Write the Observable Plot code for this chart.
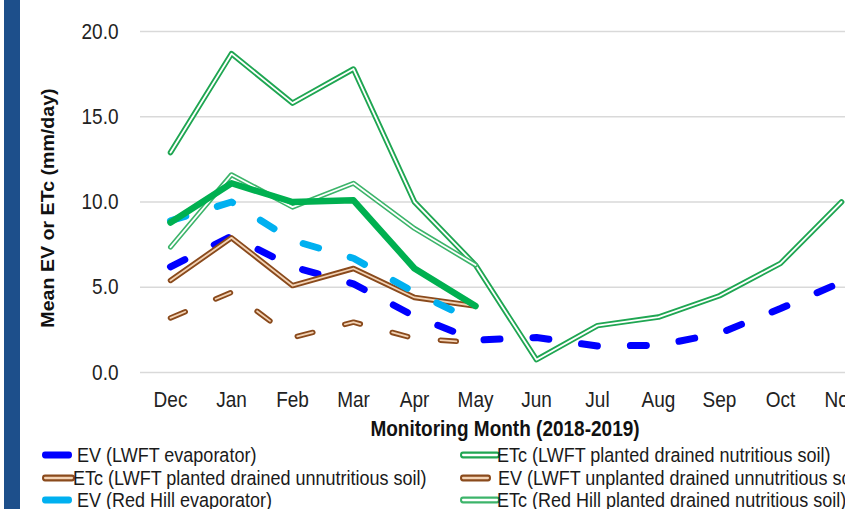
<!DOCTYPE html>
<html><head><meta charset="utf-8">
<script src="https://cdn.jsdelivr.net/npm/d3@7"></script>
<script src="https://cdn.jsdelivr.net/npm/@observablehq/plot@0.6"></script>
<style>
html,body{margin:0;padding:0;background:#fff;overflow:hidden}
#wrap{position:relative;width:845px;height:509px;overflow:hidden;font-family:"Liberation Sans",Arial,sans-serif;color:#1a1a1a;background:#fff}
#bar{position:absolute;left:4px;top:0;width:16px;height:509px;background:#1d4f8b}
#chart{position:absolute;left:0;top:0}
.title{position:absolute;font-weight:bold;white-space:nowrap;color:#111}
.leg{position:absolute;font-size:18px;white-space:nowrap;height:22px;line-height:22px;transform:scaleY(1.15);transform-origin:left center;color:#1a1a1a}
.leg svg{position:absolute;top:0;left:0}
.leg span{position:absolute;top:0}
</style></head><body>
<div id="wrap">
  <div id="chart"></div>
  <div id="bar"></div>
  <div class="title" id="ytitle" style="left:48px;top:208px;font-size:17.5px;transform:translate(-50%,-50%) rotate(-90deg) scale(1.12,1)">Mean EV or ETc (mm/day)</div>
  <div class="title" id="xtitle" style="left:505px;top:429px;font-size:19px;transform:translate(-50%,-50%) scale(1,1.15)">Monitoring Month (2018-2019)</div>
  <div id="legend"></div>
</div>
<script>
const months = ["Dec","Jan","Feb","Mar","Apr","May","Jun","Jul","Aug","Sep","Oct","Nov"];
const evLwftEvaporator      = [6.2, 8.0, 6.2, 5.2, 3.3, 1.9, 2.05, 1.55, 1.6, 2.3, 3.75, 5.3];
const etcLwftNutritious     = [12.9, 18.7, 15.8, 17.8, 10.0, 6.3, 0.75, 2.75, 3.25, 4.5, 6.4, 10.0];
const etcLwftUnnutritious   = [5.4, 7.9, 5.1, 6.1, 4.4, 3.9];
const evLwftUnplanted       = [3.2, 4.7, 2.05, 2.95, 2.0, 1.75];
const evRedHillEvaporator   = [8.9, 10.0, 7.75, 6.7, 4.7, 3.0];
const etcRedHillNutritious  = [7.35, 11.6, 9.7, 11.1, 8.45, 6.3];
const etcRedHillUnnutritious= [8.8, 11.1, 10.0, 10.1, 6.1, 3.9];
const yTicks = [0, 5, 10, 15, 20];
const legendLabels = [
  "EV (LWFT evaporator)",
  "ETc (LWFT planted drained nutritious soil)",
  "ETc (LWFT planted drained unnutritious soil)",
  "EV (LWFT unplanted drained unnutritious soil)",
  "EV (Red Hill evaporator)",
  "ETc (Red Hill planted drained nutritious soil)",
  "ETc (Red Hill planted drained unnutritious soil)"
];

const rows = arr => arr.map((v, i) => ({month: months[i], value: v}));
const DASH = "16,33";
const line = (arr, o) => Plot.line(rows(arr), {x: "month", y: "value", strokeLinecap: "round", strokeLinejoin: "round", ...o});

const chart = Plot.plot({
  width: 845, height: 440,
  marginLeft: 140, marginRight: 0, marginTop: 0, marginBottom: 68,
  style: {fontSize: "19px", fontFamily: "Liberation Sans, Arial, sans-serif", color: "#222", background: "transparent"},
  x: {type: "point", domain: months, range: [170, 841], padding: 0, tickSize: 0, tickPadding: 20, label: null},
  y: {domain: [0, 20], range: [372, 31], ticks: yTicks, tickFormat: d3.format(".1f"), tickSize: 0, tickPadding: 22, label: null},
  marks: [
    Plot.ruleY(yTicks, {stroke: "#d9d9d9", strokeWidth: 1.5}),
    line(evLwftEvaporator, {stroke: "#0000ff", strokeWidth: 7, strokeDasharray: DASH}),
    line(etcLwftNutritious, {stroke: "#1fa652", strokeWidth: 5.5}),
    line(etcLwftNutritious, {stroke: "#ffffff", strokeWidth: 1.8}),
    line(etcLwftUnnutritious, {stroke: "#8a4a1c", strokeWidth: 5.5}),
    line(etcLwftUnnutritious, {stroke: "#f3d3b5", strokeWidth: 1.8}),
    line(evLwftUnplanted, {stroke: "#8a4a1c", strokeWidth: 5.5, strokeDasharray: DASH}),
    line(evLwftUnplanted, {stroke: "#f3d3b5", strokeWidth: 1.8, strokeDasharray: DASH}),
    line(evRedHillEvaporator, {stroke: "#00b0f0", strokeWidth: 7, strokeDasharray: DASH}),
    line(etcRedHillNutritious, {stroke: "#3cb46a", strokeWidth: 5}),
    line(etcRedHillNutritious, {stroke: "#ffffff", strokeWidth: 1.8}),
    line(etcRedHillUnnutritious, {stroke: "#00b050", strokeWidth: 6.5})
  ]
});
document.getElementById("chart").appendChild(chart);
chart.querySelectorAll("text").forEach(t => {
  const b = t.getBBox();
  const cx = b.x + b.width / 2, cy = b.y + b.height / 2;
  const tr = t.getAttribute("transform") || "";
  t.setAttribute("transform", `${tr} translate(${cx},${cy}) scale(1,1.15) translate(${-cx},${-cy})`);
});

// legend
const legItems = [
  {label: legendLabels[0], x: 42, y: 455, w: 27, tx: 35, kind: "solid", c: "#0000ff"},
  {label: legendLabels[1], x: 460, y: 455, w: 37, tx: 37, kind: "double", c: "#1fa652", i: "#ffffff"},
  {label: legendLabels[2], x: 42, y: 478, w: 30, tx: 31, kind: "double", c: "#8a4a1c", i: "#f3d3b5"},
  {label: legendLabels[3], x: 460, y: 478, w: 28, tx: 38, kind: "double", c: "#8a4a1c", i: "#f3d3b5"},
  {label: legendLabels[4], x: 42, y: 500, w: 27, tx: 35, kind: "solid", c: "#00b0f0"},
  {label: legendLabels[5], x: 460, y: 500, w: 37, tx: 37, kind: "double", c: "#3cb46a", i: "#ffffff"},
  {label: legendLabels[6], x: 42, y: 522, w: 27, tx: 35, kind: "solid", c: "#00b050"}
];
const leg = document.getElementById("legend");
legItems.forEach(d => {
  const div = document.createElement("div");
  div.className = "leg";
  div.style.left = d.x + "px";
  div.style.top = (d.y - 11) + "px";
  const w = d.w + 6;
  let s = `<svg width="${w}" height="22"><line x1="3" y1="11" x2="${d.w}" y2="11" stroke="${d.c}" stroke-width="6" stroke-linecap="round"/>`;
  if (d.kind === "double") s += `<line x1="3" y1="11" x2="${d.w}" y2="11" stroke="${d.i}" stroke-width="2" stroke-linecap="round"/>`;
  s += `</svg><span style="left:${d.tx}px">${d.label}</span>`;
  div.innerHTML = s;
  leg.appendChild(div);
});
</script>
</body></html>
